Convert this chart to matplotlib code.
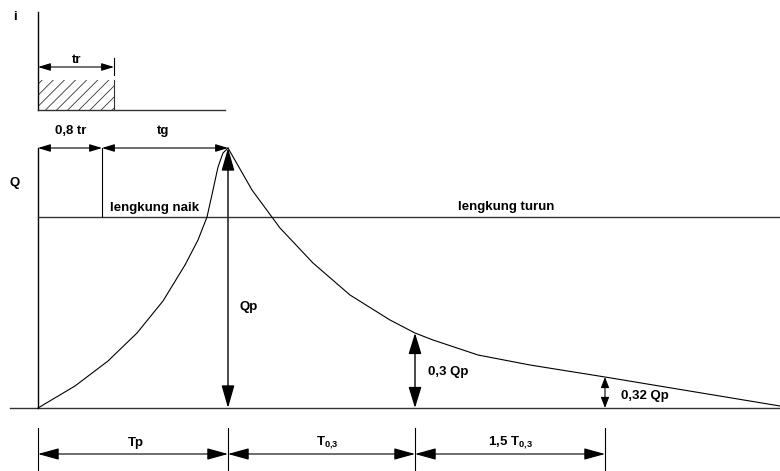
import matplotlib
matplotlib.use('Agg')
import matplotlib.pyplot as plt
from matplotlib.patches import FancyArrowPatch, Rectangle

plt.rcParams['font.family'] = ['Liberation Sans', 'DejaVu Sans']
plt.rcParams['font.weight'] = 'bold'
plt.rcParams['mathtext.fontset'] = 'custom'
plt.rcParams['mathtext.rm'] = 'Liberation Sans:bold'
plt.rcParams['mathtext.bf'] = 'Liberation Sans:bold'
plt.rcParams['hatch.linewidth'] = 0.6

# hydrograph (schematic units: time t, discharge Q)
t_rise = [0, 37, 70, 99, 125, 147, 160, 169, 175, 180, 185, 190]
q_rise = [0, 22, 47, 75, 107, 143, 168, 191, 218, 241, 255, 260]
t_fall = [190, 214, 242, 275, 312, 352, 377, 395, 440, 492, 567, 742]
q_fall = [260, 218, 180, 145, 113, 88, 75, 68, 53, 43, 31, 2]

Tp = 190          # time to peak
t_03 = 377        # Tp + T0,3
t_032 = 567       # Tp + T0,3 + 1,5 T0,3
Qp = 260
q_03 = 75         # 0,3 Qp
q_032 = 31        # 0,32 Qp
t_08tr = 64       # 0,8 tr
q_limb = 191      # level of the naik / turun line
t_end = 742

# rainfall block
tr = 76
rain_bottom = 298
rain_top = 328
rain_axis_top = 396
rain_base_end = 187

# bottom dimension line
dim_q = -46
tick_q0 = -20

fs = 9.5


def px(x, y):
    # pixel position of the reference -> data units
    return (x - 38, 408 - y)


def dim_arrow(ax, p0, p1, hl, hw, lw=0.8):
    a = FancyArrowPatch(p0, p1, arrowstyle=f'<|-|>,head_length={hl},head_width={hw}',
                        mutation_scale=1, shrinkA=0, shrinkB=0, color='black', lw=lw)
    ax.add_patch(a)


fig = plt.figure(figsize=(7.8, 4.71), dpi=100)
ax = fig.add_axes([0, 0, 1, 1])
ax.set_xlim(-38, 742)
ax.set_ylim(-63, 408)
ax.axis('off')

line_c = '#333333'

# rainfall sketch
ax.plot([0, 0], [rain_bottom, rain_axis_top], color='black', lw=1)
ax.plot([0, rain_base_end], [rain_bottom, rain_bottom], color=line_c, lw=1)
ax.add_patch(Rectangle((0, rain_bottom), tr, rain_top - rain_bottom, facecolor='none',
                       edgecolor='#333333', hatch='///', lw=0))
ax.plot([tr, tr], [rain_bottom, rain_top], color=line_c, lw=0.8)
ax.plot([tr, tr], [333, 350], color='black', lw=0.8)
dim_arrow(ax, (0, 341), (tr, 341), 7.5, 2.3)
ax.text(*px(77, 60), 'tr', ha='center', va='center', fontsize=fs)
ax.text(*px(15, 17), 'i', ha='center', va='center', fontsize=fs)

# hydrograph frame
ax.plot([-28, t_end], [0, 0], color=line_c, lw=1)
ax.plot([0, 0], [0, Qp], color='black', lw=1)
ax.plot([0, t_end], [q_limb, q_limb], color=line_c, lw=1)
ax.plot([t_08tr, t_08tr], [q_limb, Qp], color='black', lw=0.8)

# curve
ax.plot(t_rise, q_rise, color='black', lw=0.8)
ax.plot(t_fall, q_fall, color='black', lw=0.8)

# top dimension arrows
dim_arrow(ax, (0, Qp), (t_08tr, Qp), 7.5, 2.3)
dim_arrow(ax, (t_08tr, Qp), (Tp, Qp), 7.5, 2.3)
ax.text(*px(71, 131), '0,8 tr', ha='center', va='center', fontsize=fs)
ax.text(*px(163, 131), 'tg', ha='center', va='center', fontsize=fs)

# vertical Q arrows
dim_arrow(ax, (Tp, 0), (Tp, Qp), 14, 4, lw=1)
dim_arrow(ax, (t_03, 0), (t_03, q_03), 13, 4, lw=1)
dim_arrow(ax, (t_032, 0), (t_032, q_032), 6.5, 2.5, lw=0.8)

ax.text(*px(15, 183), 'Q', ha='center', va='center', fontsize=fs)
ax.text(*px(110, 208), 'lengkung naik', ha='left', va='center', fontsize=fs)
ax.text(*px(458, 207), 'lengkung turun', ha='left', va='center', fontsize=fs)
ax.text(*px(240, 307), 'Qp', ha='left', va='center', fontsize=fs)
ax.text(*px(428, 372), '0,3 Qp', ha='left', va='center', fontsize=fs)
ax.text(*px(621, 396), '0,32 Qp', ha='left', va='center', fontsize=fs)

# bottom time dimensions
for tk in [0, Tp, t_03, t_032]:
    ax.plot([tk, tk], [tick_q0, -63], color='black', lw=0.8)
dim_arrow(ax, (0, dim_q), (Tp, dim_q), 13, 3.6)
dim_arrow(ax, (Tp, dim_q), (t_03, dim_q), 13, 3.6)
dim_arrow(ax, (t_03, dim_q), (t_032, dim_q), 13, 3.6)
ax.text(*px(136, 443), 'Tp', ha='center', va='center', fontsize=fs)
ax.text(*px(327, 443), r'T$_{0{,}3}$', ha='center', va='center', fontsize=fs)
ax.text(*px(510, 443), r'1,5 T$_{0{,}3}$', ha='center', va='center', fontsize=fs)

plt.savefig('out.png', dpi=100)
